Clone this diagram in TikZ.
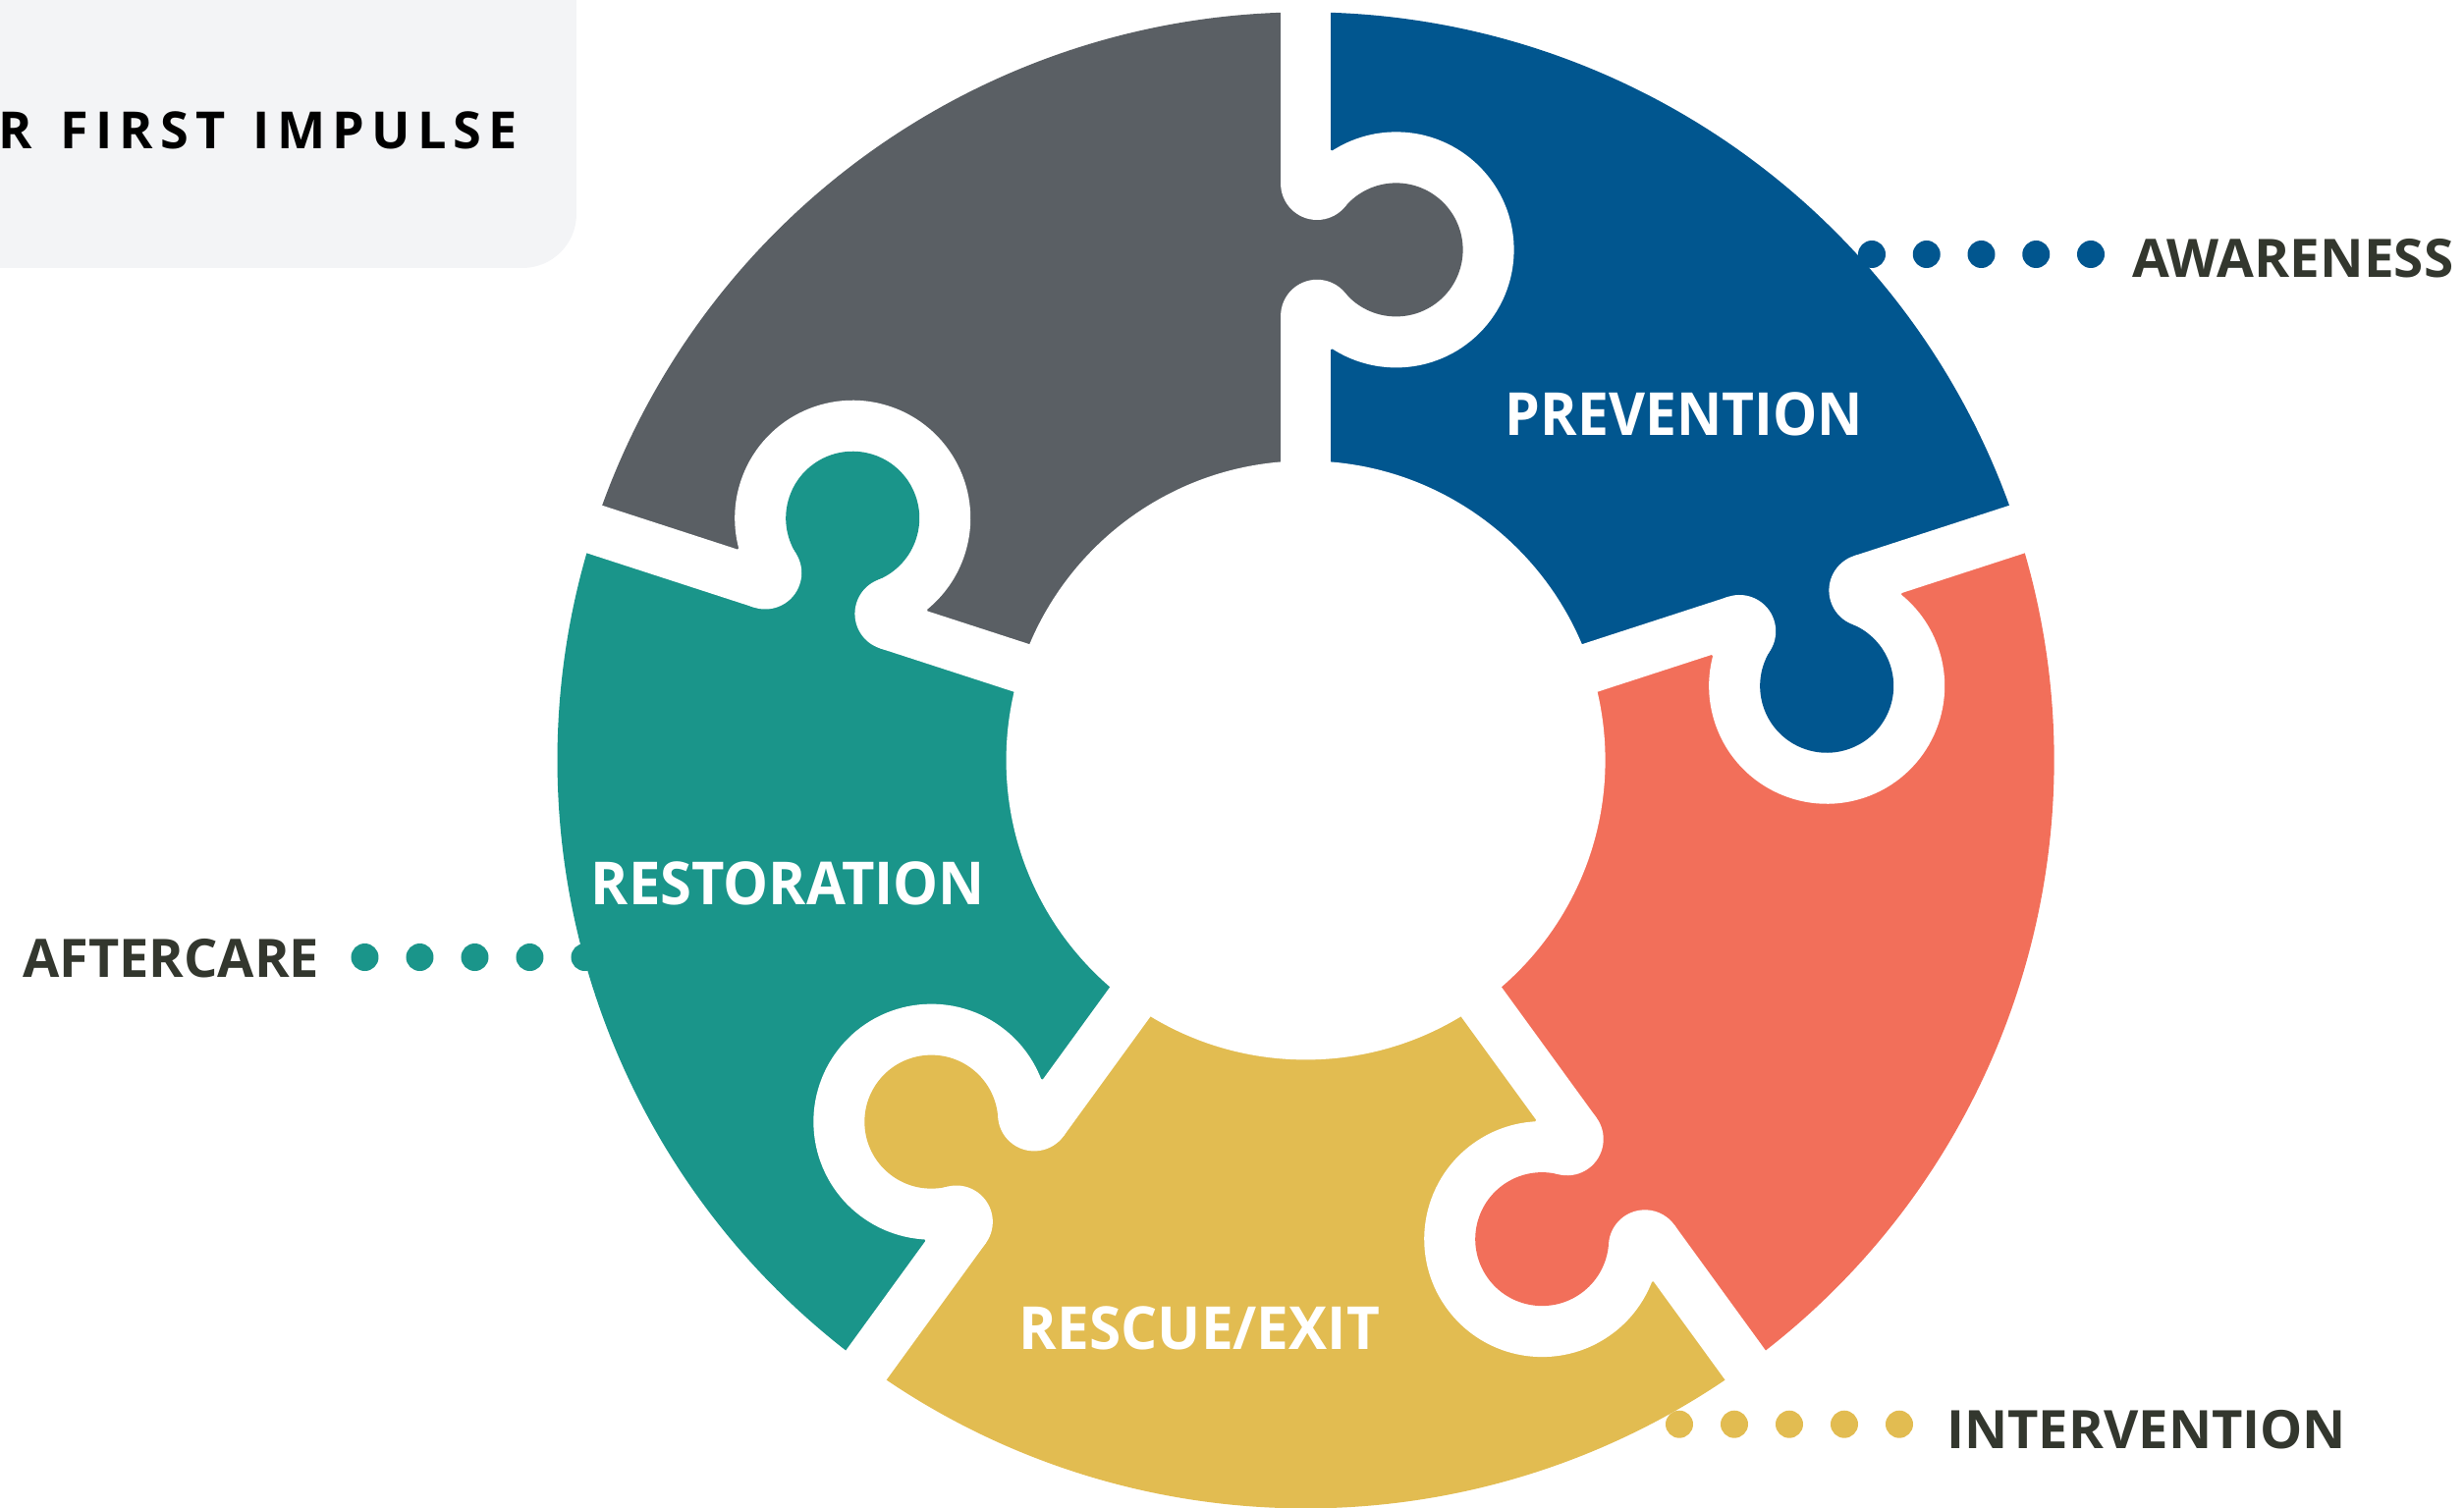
\documentclass[tikz,border=0pt]{standalone}
\usepackage{fontspec}
\setmainfont{Open Sans}
\usepackage{graphicx}
\definecolor{pgray}{HTML}{5A5F64}
\definecolor{pblue}{HTML}{01568F}
\definecolor{porange}{HTML}{F26F5A}
\definecolor{pyellow}{HTML}{E2BC51}
\definecolor{pteal}{HTML}{1A958A}
\definecolor{txtdark}{HTML}{33372E}
\definecolor{boxgray}{HTML}{F3F4F6}
\newsavebox\fitbox
\newcommand\fitw[2]{\sbox\fitbox{#2}\pgfmathsetmacro\fitfac{#1/\the\wd\fitbox}\scalebox{\fitfac}[1]{\usebox\fitbox}}
\tikzset{
  piecelab/.style={text=white, font=\bfseries\fontsize{60.5}{70}\selectfont, inner sep=0, anchor=base},
  sidelab/.style={text=txtdark, font=\bfseries\fontsize{54}{62}\selectfont, inner sep=0, anchor=base west},
  gapline/.style={white, line width=51},
}
\begin{document}
\begin{tikzpicture}[x=1pt,y=1pt]
\useasboundingbox (-1329.6,-760.6) rectangle (1179.4,774.4);
% top-left box
\fill[boxgray, rounded corners=55] (-1400,900) rectangle (-742.6,501.4);
% sectors
\foreach \a/\b/\c in {90/162/pgray, 18/90/pblue, -54/18/porange, -126/-54/pyellow, 162/234/pteal}
  \fill[\c] (0,0) -- (\a:762) arc[start angle=\a, end angle=\b, radius=762] -- cycle;
% sockets
\foreach \t/\r in {90/520, 18/528, -54/536, -126/522, 162/515}
  \fill[white, rotate=\t-90] (92,\r) circle[radius=120];
% gaps
\foreach \t in {90,18,-54,-126,162}
  \draw[gapline] (0,0) -- (\t:800);
% knobs
\foreach \t/\c/\r in {90/pgray/520, 18/pblue/528, -54/porange/536, -126/pyellow/522, 162/pteal/515}{
  \begin{scope}[rotate=\t-90, shift={(0,\r)}]
    \fill[\c] (92,0) circle[radius=68];
    \fill[\c] (-35,-67.4) -- (11.5,-67.4) -- (39.9,-43.65) -- (92,0) -- (39.9,43.65) -- (11.5,67.4) -- (-35,67.4) -- cycle;
    \fill[white] (11.5,-67.4) circle[radius=37] (11.5,67.4) circle[radius=37];
  \end{scope}}
% centre hole
\fill[white] (0,0) circle[radius=305];
% piece labels
\node[piecelab] (prev) at (385.4,331.1) {\fitw{364}{PREVENTION}};
\node[piecelab] (rest) at (-527.1,-146.6) {\fitw{401}{RESTORATION}};
\node[piecelab] (resc) at (-108.1,-599.6) {\fitw{367}{RESCUE/EXIT}};
% dots
\foreach \i in {0,...,4} \fill[pblue] (576.4+55.75*\i,515.4) circle[radius=14];
\foreach \i in {0,...,4} \fill[pteal] (-958.1+56*\i,-200.6) circle[radius=14];
\foreach \i in {0,...,4} \fill[pyellow] (380.4+56*\i,-676.3) circle[radius=14];
% side labels
\node[sidelab] (aware) at (841.4,491.7) {\fitw{327}{AWARENESS}};
\node[sidelab] (interv) at (652.4,-700.6) {\fitw{407}{INTERVENTION}};
\node[sidelab] (after) at (-1306.6,-220.6) {\fitw{302}{AFTERCARE}};
\node[font=\bfseries\fontsize{52.2}{60}\selectfont, text=black, inner sep=0, anchor=base west] (impulse) at (-1330.8,622.4)
  {\hbox to 528pt{R\hfil\ \hfil F\hfil I\hfil R\hfil S\hfil T\hfil\ \hfil I\hfil M\hfil P\hfil U\hfil L\hfil S\hfil E}};
\end{tikzpicture}
\end{document}
